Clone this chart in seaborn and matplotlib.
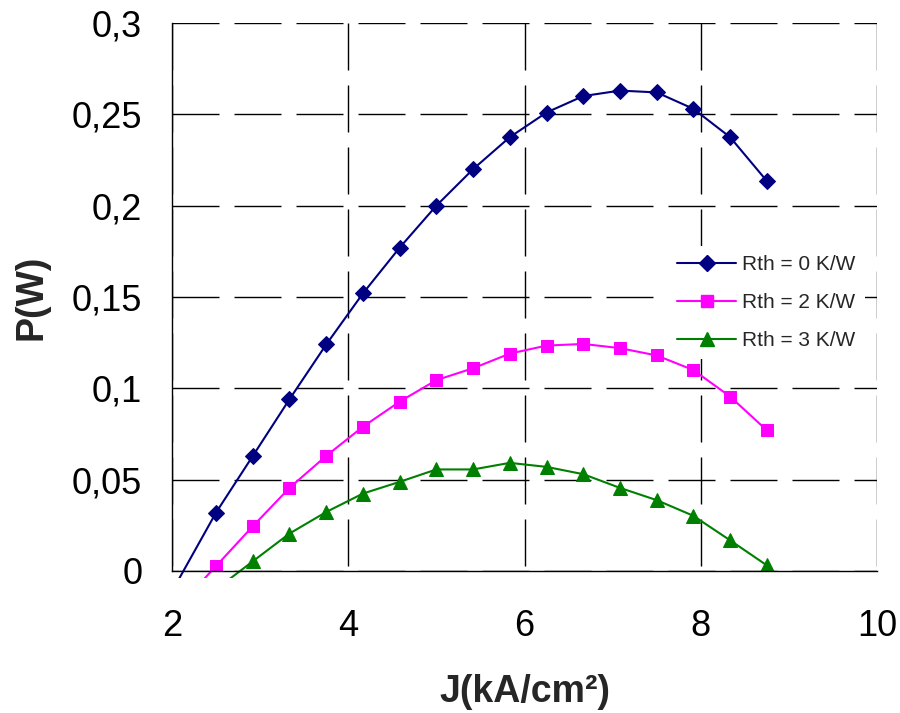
import numpy as np
import pandas as pd
import matplotlib
matplotlib.use("Agg")
import matplotlib.pyplot as plt
from matplotlib.lines import Line2D
from matplotlib.patches import Rectangle
import seaborn as sns

# ---- data ----
J = [2.083, 2.5, 2.917, 3.333, 3.75, 4.167, 4.583, 5.0, 5.417, 5.833,
     6.25, 6.667, 7.083, 7.5, 7.917, 8.333, 8.75]
P_rth0 = [-0.004, 0.032, 0.063, 0.094, 0.124, 0.152, 0.177, 0.200, 0.220, 0.2375,
          0.251, 0.260, 0.263, 0.262, 0.253, 0.2375, 0.2135]
P_rth2 = [-0.019, 0.0027, 0.0245, 0.0455, 0.063, 0.079, 0.0927, 0.1045, 0.111, 0.119,
          0.1234, 0.1243, 0.122, 0.118, 0.110, 0.0955, 0.077]
P_rth3 = [np.nan, -0.010, 0.0053, 0.0205, 0.0323, 0.0424, 0.0488, 0.0556, 0.0556, 0.0592,
          0.057, 0.053, 0.0455, 0.0388, 0.0302, 0.0168, 0.0031]
series_labels = ["Rth = 0 K/W", "Rth = 2 K/W", "Rth = 3 K/W"]
x_ticks = [2, 4, 6, 8, 10]
x_tick_labels = ["2", "4", "6", "8", "10"]
y_ticks = [0, 0.05, 0.1, 0.15, 0.2, 0.25, 0.3]
y_tick_labels = ["0", "0,05", "0,1", "0,15", "0,2", "0,25", "0,3"]
x_label = "J(kA/cm²)"
y_label = "P(W)"

sns.set_style("white")
plt.rcParams["font.family"] = ["Liberation Sans", "DejaVu Sans"]
plt.rcParams["lines.scale_dashes"] = False

colors = ["#000080", "#FF00FF", "#008000"]
markers = ["D", "s", "^"]
msizes = [8.0, 8.5, 9.5]
all_series = [P_rth0, P_rth2, P_rth3]

fig = plt.figure(figsize=(9, 7.13), dpi=100)
ax = fig.add_axes([172 / 900, 1 - 571 / 713, 705 / 900, 548 / 713])

clip_rect = Rectangle((0, -7 / 548), 1, 1 + 7 / 548, transform=ax.transAxes,
                      facecolor="none", edgecolor="none")
ax.add_patch(clip_rect)

for P, c, m, ms in zip(all_series, colors, markers, msizes):
    df = pd.DataFrame({"J": J, "P": P}).dropna()
    n_before = len(ax.lines)
    sns.lineplot(data=df, x="J", y="P", color=c, lw=1.5, sort=False,
                 estimator=None, ax=ax)
    for ln in ax.lines[n_before:]:
        ln.set_clip_path(clip_rect)
    dm = df[df["P"] >= 0]
    sns.lineplot(data=dm, x="J", y="P", color=c, marker=m, markersize=ms,
                 markeredgecolor=c, linestyle="", sort=False, estimator=None, ax=ax)

ax.set_xlim(2, 10)
ax.set_ylim(0, 0.3)
ax.set_xticks(x_ticks)
ax.set_xticklabels(x_tick_labels)
ax.set_yticks(y_ticks)
ax.set_yticklabels(y_tick_labels)

px = 0.72
ax.yaxis.grid(True, color="black", lw=1.0, linestyle=(0, (47 * px, 15 * px)))
ax.xaxis.grid(True, color="black", lw=1.0, linestyle=(57 * px, (47 * px, 15 * px)))
ax.set_axisbelow(True)

for s in ["top", "right"]:
    ax.spines[s].set_visible(False)
for s in ["left", "bottom"]:
    ax.spines[s].set_color("black")
    ax.spines[s].set_linewidth(1.0)

ax.tick_params(axis="both", which="major", direction="out", length=8.5, width=1.0,
               color="black", labelsize=26, labelcolor="black")
ax.tick_params(axis="y", pad=13)
ax.tick_params(axis="x", pad=19)

ax.set_xlabel(x_label, fontsize=27, fontweight="bold")
ax.set_ylabel(y_label, fontsize=27, fontweight="bold")
ax.xaxis.set_label_coords(0.5, (571 - 692) / 548)
ax.xaxis.label.set_verticalalignment("center")
ax.yaxis.set_label_coords((32 - 172) / 705, 0.5)
ax.yaxis.label.set_verticalalignment("center")

handles = [Line2D([], [], color=c, marker=m, markersize=ms, markeredgecolor=c, lw=1.5)
           for c, m, ms in zip(colors, markers, msizes)]
leg = ax.legend(handles, series_labels, loc="upper left",
                bbox_to_anchor=(668 / 900, 1 - 246 / 713), bbox_transform=fig.transFigure,
                frameon=True, fancybox=False, facecolor="white", edgecolor="none",
                framealpha=1.0, fontsize=15, handlelength=2.8, handletextpad=0.3,
                labelspacing=0.9, borderpad=0.45, borderaxespad=0)
leg.set_zorder(5)

fig.savefig("out.png", dpi=100, facecolor="white")
